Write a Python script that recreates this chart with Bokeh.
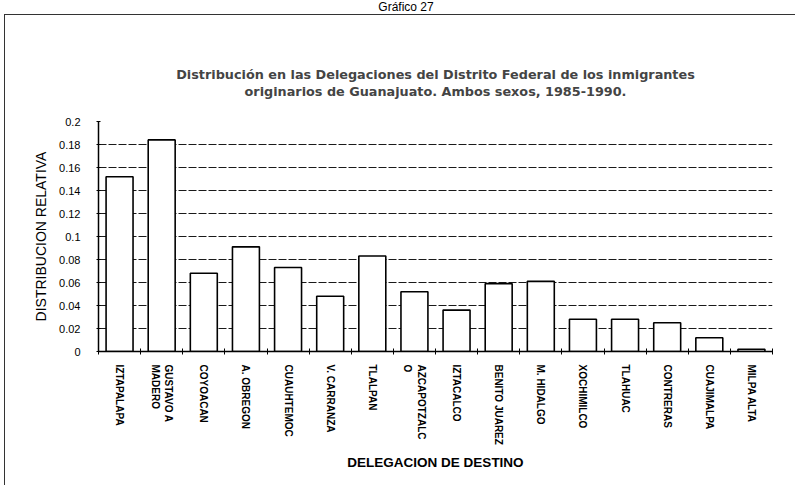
from bokeh.plotting import figure
from bokeh.models import FixedTicker, Range1d, Title, Div
from bokeh.layouts import column
from bokeh.embed import file_html
from bokeh.resources import INLINE

categories = ["IZTAPALAPA", "GUSTAVO A\nMADERO", "COYOACAN", "A. OBREGON", "CUAUHTEMOC",
              "V. CARRANZA", "TLALPAN", "AZCAPOTZALC\nO", "IZTACALCO", "BENITO JUAREZ",
              "M. HIDALGO", "XOCHIMILCO", "TLAHUAC", "CONTRERAS", "CUAJIMALPA", "MILPA ALTA"]
values = [0.152, 0.184, 0.068, 0.091, 0.073, 0.048, 0.083, 0.052, 0.036, 0.059,
          0.061, 0.028, 0.028, 0.025, 0.012, 0.002]
yticks = [0, 0.02, 0.04, 0.06, 0.08, 0.1, 0.12, 0.14, 0.16, 0.18, 0.2]
yticklabels = ["0", "0.02", "0.04", "0.06", "0.08", "0.1", "0.12", "0.14", "0.16", "0.18", "0.2"]
title_line1 = "Distribución en las Delegaciones del Distrito Federal de los inmigrantes"
title_line2 = "originarios de Guanajuato. Ambos sexos, 1985-1990."
chart_number = "Gráfico 27"

n = len(categories)
centers = [i + 0.5 for i in range(n)]
bounds = [float(i) for i in range(n + 1)]

FONT = "Liberation Sans"
TFONT = "DejaVu Sans"

p = figure(width=791, height=471, output_backend="svg", toolbar_location=None,
           x_range=Range1d(0, n), y_range=Range1d(0, 0.2),
           min_border_left=93, min_border_right=24, min_border_top=106, min_border_bottom=135,
           outline_line_color=None, background_fill_color="white", border_fill_color="white",
           margin=(0, 0, 0, 4),
           styles={"border-left": "1px solid #333", "border-top": "1px solid #333"})

p.vbar(x=centers, top=values, width=0.64, fill_color="white", line_color="black", line_width=1.6)

# grid
p.xgrid.grid_line_color = None
p.ygrid.grid_line_color = "#1a1a1a"
p.ygrid.grid_line_dash = "8 2"
p.ygrid.grid_line_width = 1

# y axis
p.yaxis.ticker = FixedTicker(ticks=yticks)
p.yaxis.major_label_overrides = dict(zip(yticks, yticklabels))
p.yaxis.axis_label = "DISTRIBUCION RELATIVA"
p.yaxis.axis_label_text_font = FONT
p.yaxis.axis_label_text_font_style = "normal"
p.yaxis.axis_label_text_font_size = "14px"
p.yaxis.axis_label_standoff = 7
p.yaxis.axis_label_text_color = "black"
p.yaxis.major_label_text_font = FONT
p.yaxis.major_label_text_font_size = "11px"
p.yaxis.major_label_standoff = 16
p.yaxis.major_tick_in = 2
p.yaxis.major_tick_out = 2
p.yaxis.minor_tick_line_color = None
p.yaxis.axis_line_width = 1.5
p.yaxis.axis_line_color = "black"
p.yaxis.major_tick_line_color = "black"
p.yaxis.major_label_text_color = "black"

# x axis
p.xaxis.ticker = FixedTicker(ticks=centers, minor_ticks=bounds)
p.xaxis.major_label_overrides = dict(zip(centers, categories))
p.xaxis.major_label_orientation = "vertical"
p.xaxis.major_label_text_font = FONT
p.xaxis.major_label_text_font_style = "bold"
p.xaxis.major_label_text_font_size = "10px"
p.xaxis.major_label_standoff = 10
p.xaxis.major_tick_line_color = None
p.xaxis.major_tick_in = 0
p.xaxis.major_tick_out = 0
p.xaxis.minor_tick_in = 3
p.xaxis.minor_tick_out = 3
p.xaxis.minor_tick_line_color = "black"
p.xaxis.axis_line_width = 1.5
p.xaxis.axis_line_color = "black"
p.xaxis.axis_label = "DELEGACION DE DESTINO"
p.xaxis.axis_label_text_font = FONT
p.xaxis.axis_label_text_font_style = "bold"
p.xaxis.axis_label_text_font_size = "13.5px"
p.xaxis.axis_label_standoff = 7
p.xaxis.axis_label_text_color = "black"
p.xaxis.major_label_text_color = "black"

# titles: line 1 outermost (p.title), then line 2, then a white spacer nearest the frame
p.title = Title(text=title_line1, align="center", text_font=TFONT, text_font_style="bold",
                text_font_size="12.8px", standoff=0)
p.add_layout(Title(text=".", align="center", text_font=TFONT, text_font_size="29px",
                   text_color="white", standoff=0), "above")
p.add_layout(Title(text=title_line2, align="center", text_font=TFONT, text_font_style="bold",
                   text_font_size="12.8px", standoff=0), "above")

header = Div(text=chart_number, width=120, height=14, margin=(0, 0, 0, 346),
             styles={"font-family": FONT, "font-size": "12px", "line-height": "14px",
                     "text-align": "center", "color": "black"})

layout = column(header, p, spacing=0)

open("out.html", "w").write(file_html(layout, INLINE))
